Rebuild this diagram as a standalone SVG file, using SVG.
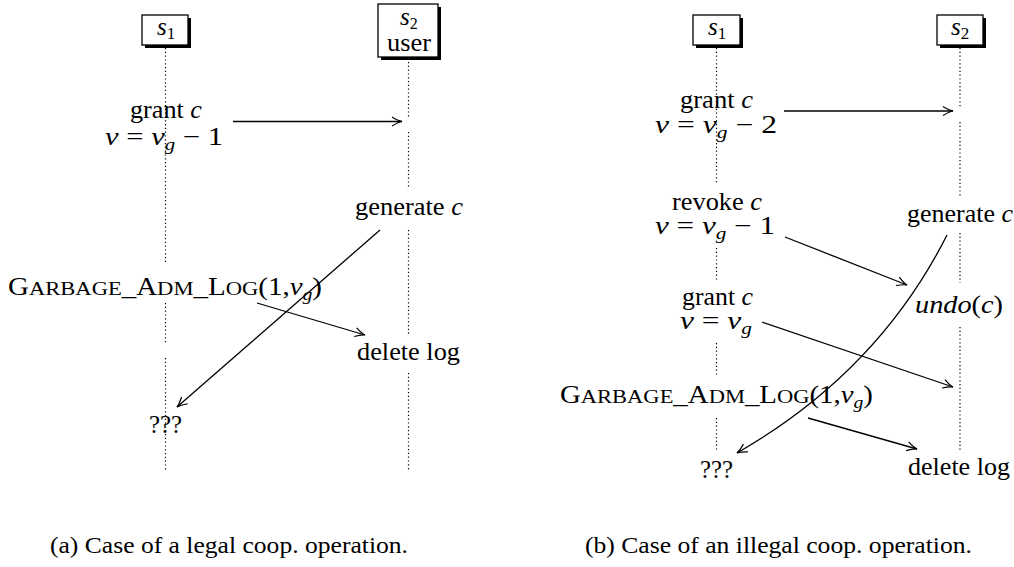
<svg xmlns="http://www.w3.org/2000/svg" width="1014" height="567" viewBox="0 0 1014 567" font-family="'Liberation Serif', 'DejaVu Serif', serif">
<defs>
<style>
text{font-family:'Liberation Serif','DejaVu Serif',serif;font-size:25px;fill:#000}
.it{font-style:italic}
.sc{font-size:19.5px}
.sub{font-size:17px;font-style:italic}
.cap{font-size:23px}
.life{stroke:#000;stroke-width:1.2;stroke-dasharray:1.2 2.6;fill:none}
.msg{stroke:#000;stroke-width:1.3;fill:none;marker-end:url(#arr)}
.box{fill:#fff;stroke:#000;stroke-width:1.3}
.shadow{fill:#000}
</style>
<marker id="arr" markerUnits="userSpaceOnUse" markerWidth="14" markerHeight="12" refX="0" refY="0" viewBox="-12 -6 14 12" orient="auto" overflow="visible">
<path d="M-10,-4.5 Q-4,-0.8 0,0 Q-4,0.8 -10,4.5" fill="none" stroke="#000" stroke-width="1.2"/>
</marker>
</defs>
<rect width="1014" height="567" fill="#fff"/>

<!-- Left diagram -->
<g id="a_s1">
<rect class="shadow" x="145" y="18" width="46" height="30"/>
<rect class="box" x="142" y="15" width="46" height="30"/>
<text x="157" y="35"><tspan class="it">s</tspan><tspan font-size="17" dy="4">1</tspan></text>
</g>
<g id="a_s2">
<rect class="shadow" x="381" y="7" width="60" height="53"/>
<rect class="box" x="378" y="4" width="60" height="53"/>
<text x="400" y="25" font-size="23"><tspan class="it">s</tspan><tspan font-size="16" dy="4">2</tspan></text>
<text x="387" y="51" font-size="24" textLength="44" lengthAdjust="spacingAndGlyphs">user</text>
</g>
<g id="a_lifelines">
<path class="life" d="M165.5,48V262M165.5,303V343M165.5,358V470"/>
<path class="life" d="M408.5,62V117M408.5,132V187M408.5,230V335M408.5,373V470"/>
</g>
<g id="a_grant">
<text x="130" y="118" textLength="72" lengthAdjust="spacingAndGlyphs">grant <tspan class="it">c</tspan></text>
<text x="105" y="145" textLength="118" lengthAdjust="spacingAndGlyphs"><tspan class="it">v</tspan> = <tspan class="it">v</tspan><tspan class="sub" dy="5">g</tspan><tspan dy="-5"> − 1</tspan></text>
</g>
<g id="a_generate"><text x="355" y="215" textLength="108" lengthAdjust="spacingAndGlyphs">generate <tspan class="it">c</tspan></text></g>
<g id="a_garbage"><text x="8" y="295" textLength="314" lengthAdjust="spacingAndGlyphs">G<tspan class="sc">ARBAGE</tspan>_A<tspan class="sc">DM</tspan>_L<tspan class="sc">OG</tspan>(1,<tspan class="it">v</tspan><tspan class="sub" dy="5">g</tspan><tspan dy="-5">)</tspan></text></g>
<g id="a_delete"><text x="357" y="360" textLength="103" lengthAdjust="spacingAndGlyphs">delete log</text></g>
<g id="a_qqq"><text x="149" y="433" textLength="33" lengthAdjust="spacingAndGlyphs">???</text></g>

<!-- Right diagram -->
<g id="b_s1">
<rect class="shadow" x="696" y="18" width="47" height="30"/>
<rect class="box" x="693" y="15" width="47" height="30"/>
<text x="708" y="35"><tspan class="it">s</tspan><tspan font-size="17" dy="4">1</tspan></text>
</g>
<g id="b_s2">
<rect class="shadow" x="940" y="18" width="46" height="30"/>
<rect class="box" x="937" y="15" width="46" height="30"/>
<text x="951" y="35"><tspan class="it">s</tspan><tspan font-size="17" dy="4">2</tspan></text>
</g>
<g id="b_lifelines">
<path class="life" d="M716.5,48V183M716.5,248V282M716.5,343V377M716.5,418V452"/>
<path class="life" d="M960,48V107M960,122V197M960,233V283M960,327V450"/>
</g>
<g id="b_grant1">
<text x="680" y="108" textLength="73" lengthAdjust="spacingAndGlyphs">grant <tspan class="it">c</tspan></text>
<text x="655" y="133" textLength="122" lengthAdjust="spacingAndGlyphs"><tspan class="it">v</tspan> = <tspan class="it">v</tspan><tspan class="sub" dy="5">g</tspan><tspan dy="-5"> − 2</tspan></text>
</g>
<g id="b_revoke">
<text x="672" y="210" textLength="90" lengthAdjust="spacingAndGlyphs">revoke <tspan class="it">c</tspan></text>
<text x="655" y="234" textLength="120" lengthAdjust="spacingAndGlyphs"><tspan class="it">v</tspan> = <tspan class="it">v</tspan><tspan class="sub" dy="5">g</tspan><tspan dy="-5"> − 1</tspan></text>
</g>
<g id="b_grant2">
<text x="682" y="305" textLength="71" lengthAdjust="spacingAndGlyphs">grant <tspan class="it">c</tspan></text>
<text x="680" y="329" textLength="72" lengthAdjust="spacingAndGlyphs"><tspan class="it">v</tspan> = <tspan class="it">v</tspan><tspan class="sub" dy="5">g</tspan></text>
</g>
<g id="b_garbage"><text x="560" y="403" textLength="313" lengthAdjust="spacingAndGlyphs">G<tspan class="sc">ARBAGE</tspan>_A<tspan class="sc">DM</tspan>_L<tspan class="sc">OG</tspan>(1,<tspan class="it">v</tspan><tspan class="sub" dy="5">g</tspan><tspan dy="-5">)</tspan></text></g>
<g id="b_qqq"><text x="700" y="478" textLength="33" lengthAdjust="spacingAndGlyphs">???</text></g>
<g id="b_generate"><text x="907" y="222" textLength="106" lengthAdjust="spacingAndGlyphs">generate <tspan class="it">c</tspan></text></g>
<g id="b_undo"><text x="915" y="313" textLength="88" lengthAdjust="spacingAndGlyphs"><tspan class="it">undo</tspan>(<tspan class="it">c</tspan>)</text></g>
<g id="b_delete"><text x="908" y="475" textLength="102" lengthAdjust="spacingAndGlyphs">delete log</text></g>

<g id="connectors">
<path class="msg" d="M233,121.5H402"/>
<path class="msg" d="M380,230L177,407"/>
<path class="msg" d="M257,303L365,335"/>
<path class="msg" d="M784,111H953"/>
<path class="msg" d="M785,237L907,285"/>
<path class="msg" d="M762,322L953,387"/>
<path class="msg" d="M808,418L917,449"/>
<path class="msg" d="M947,235Q878,372 737,453"/>
</g>

<g id="captions">
<text class="cap" x="50" y="553" textLength="358" lengthAdjust="spacingAndGlyphs">(a) Case of a legal coop. operation.</text>
<text class="cap" x="585" y="553" textLength="387" lengthAdjust="spacingAndGlyphs">(b) Case of an illegal coop. operation.</text>
</g>
</svg>
